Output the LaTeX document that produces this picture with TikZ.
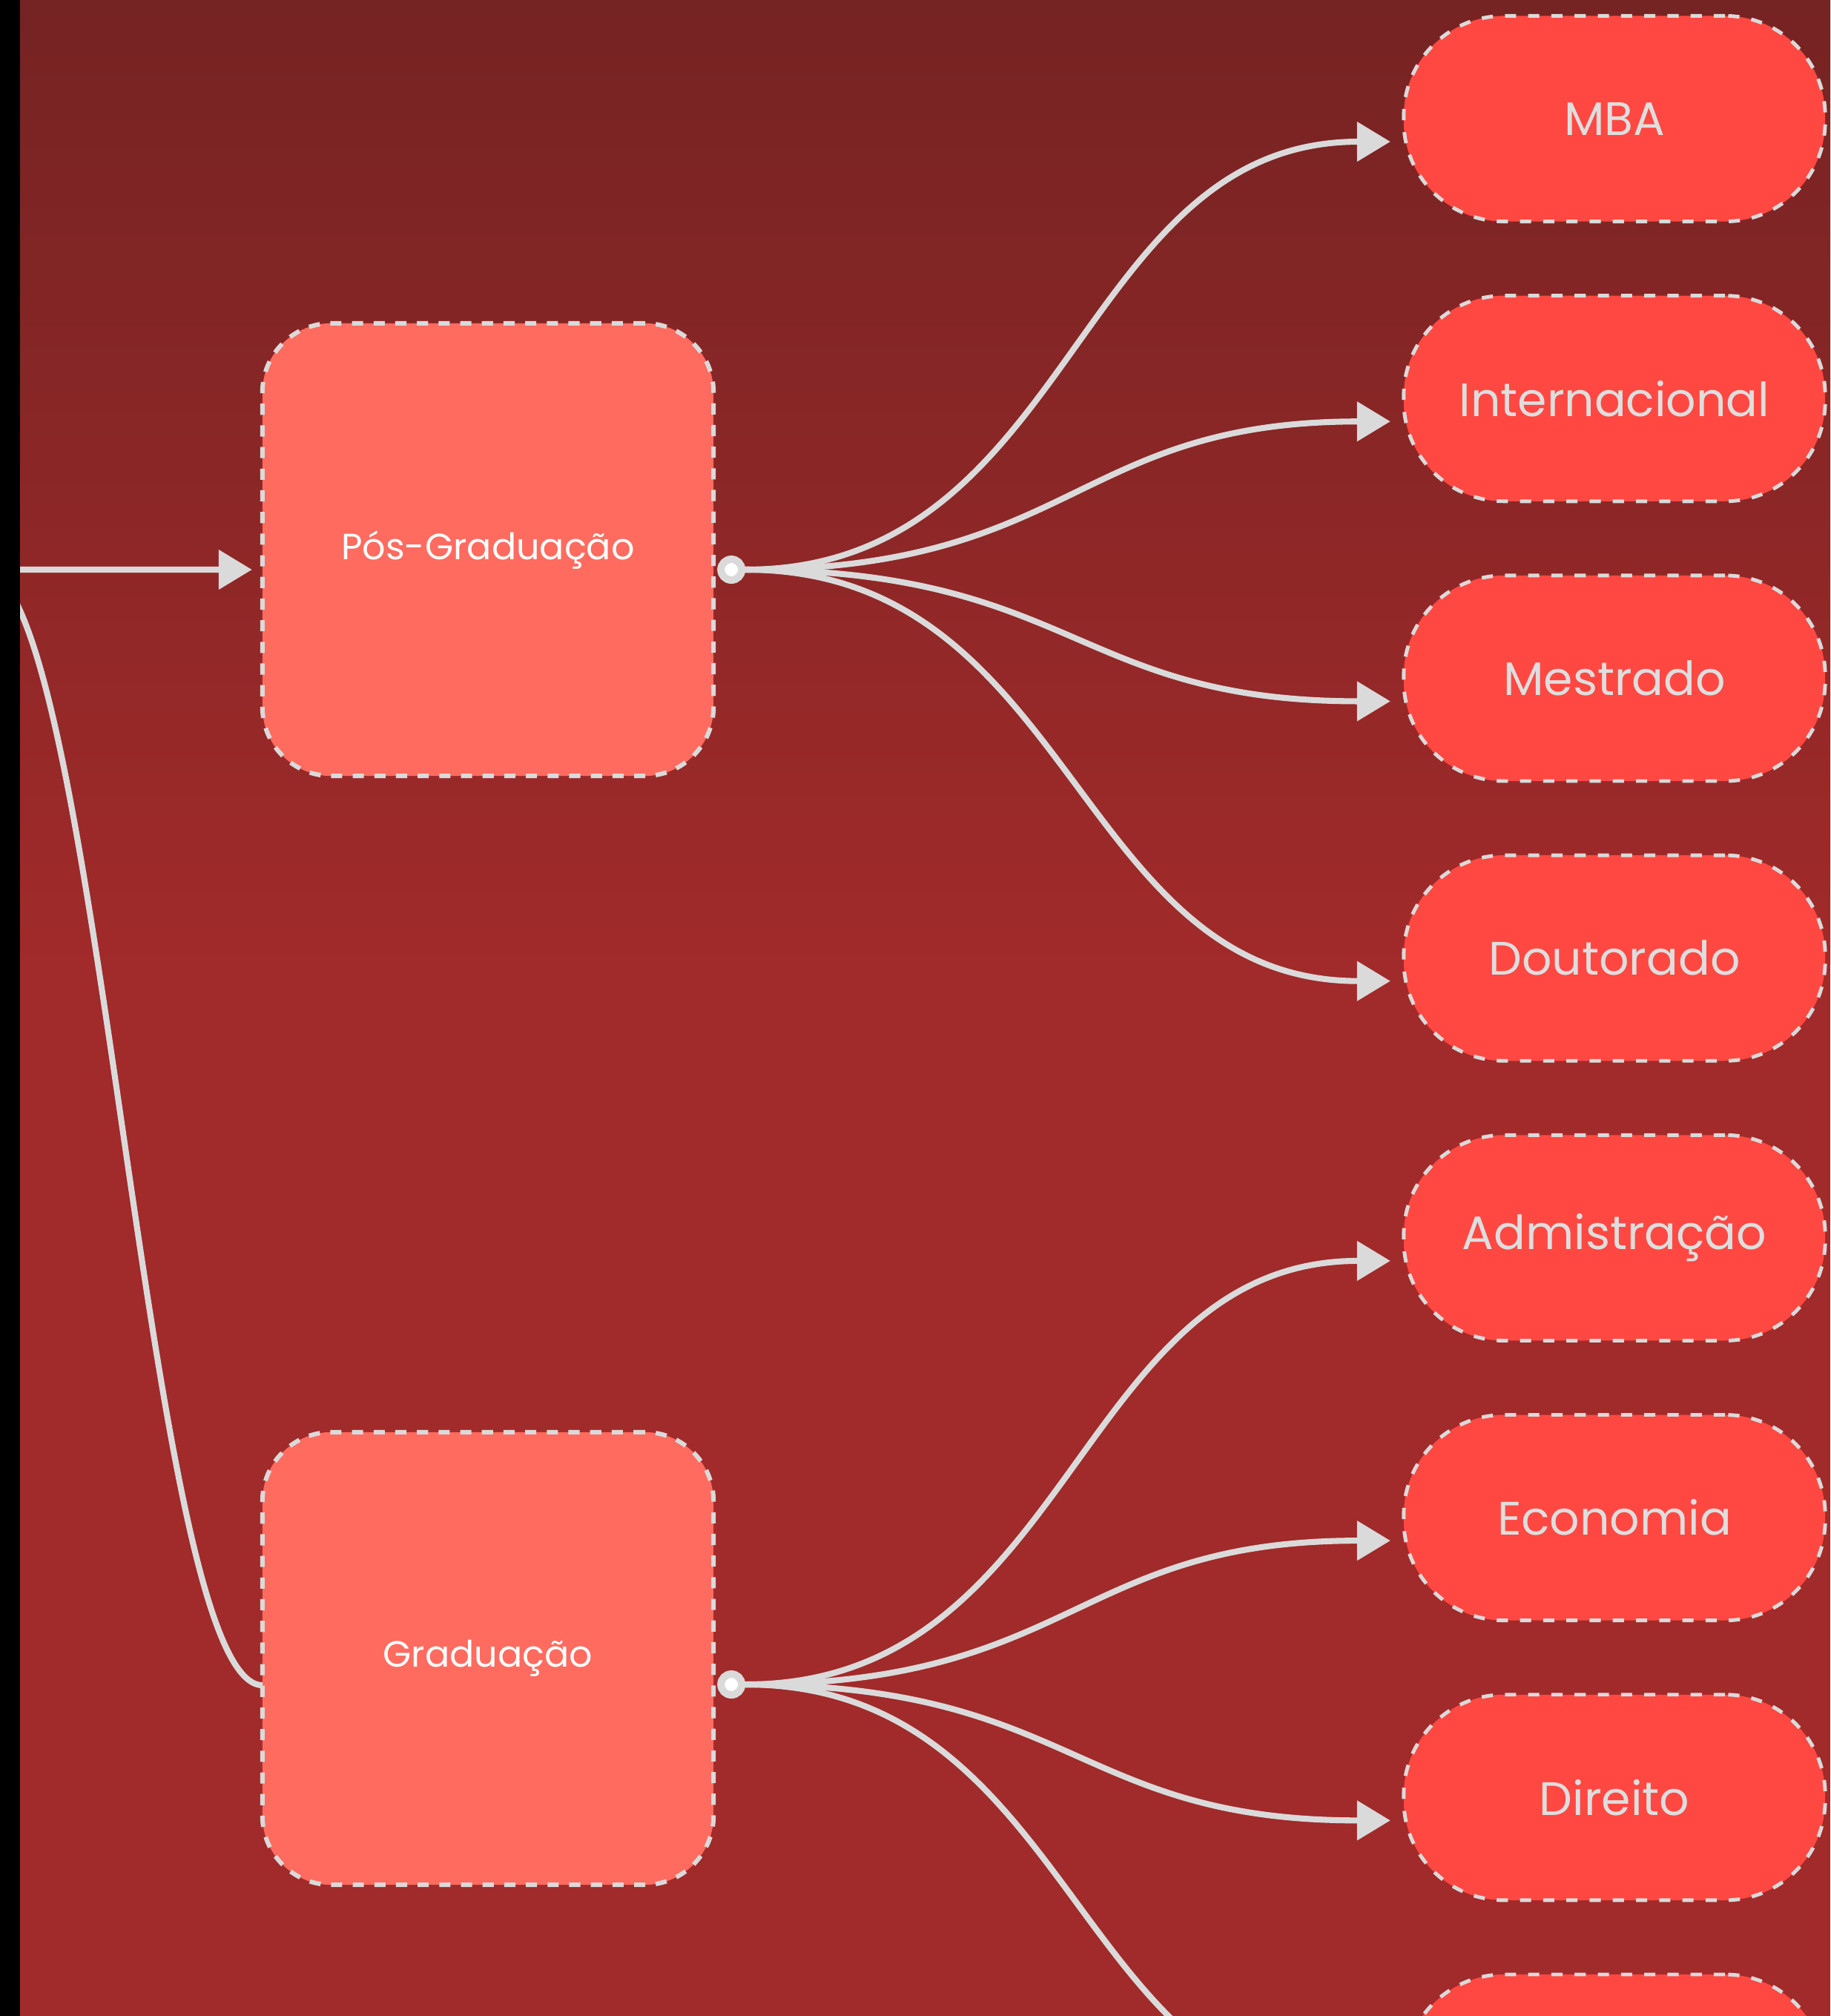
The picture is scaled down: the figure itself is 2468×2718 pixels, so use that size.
\documentclass[tikz,border=0pt]{standalone}
\usepackage{fontspec}
\setmainfont{Poppins}
\usepackage{xcolor}
\usetikzlibrary{arrows.meta, positioning}

\definecolor{bgtop}{HTML}{762323}
\definecolor{bgmid}{HTML}{A12A2A}
\definecolor{boxfill}{HTML}{FF6B5F}
\definecolor{pillfill}{HTML}{FF4842}
\definecolor{edge}{HTML}{DADADA}
\definecolor{label}{HTML}{DEDEDE}

\begin{document}
\begin{tikzpicture}[
  x=0.01cm, y=-0.01cm,
  box/.style={draw=edge, line width=1.7pt, dash pattern=on 4.3pt off 4pt, rounded corners=0.93cm, fill=boxfill,
    minimum width=6.08cm, minimum height=6.1cm, inner sep=0pt, outer sep=0pt, text=white, font=\fontsize{14}{16}\selectfont},
  pill/.style={draw=edge, line width=1.4pt, dash pattern=on 4.3pt off 4.6pt, rounded corners=1.35cm, fill=pillfill,
    minimum width=5.68cm, minimum height=2.77cm, inner sep=0pt, outer sep=0pt, text=label, font=\fontsize{18}{20}\selectfont},
  wire/.style={draw=edge, line width=2.3pt},
  link/.style={wire, -{Triangle[length=0.45cm, width=0.52cm]}, shorten >=0.18cm},
  dot/.style={circle, fill=white, draw=edge, line width=0.1cm, minimum size=0.28cm, inner sep=0pt}
]
  \useasboundingbox (0,0) rectangle (2468,2718);
  \clip (0,0) rectangle (2468,2718);
  % background
  \shade[top color=bgtop, bottom color=bgmid] (0,0) rectangle (2468,1300);
  \fill[bgmid] (0,1299) rectangle (2468,2718);

  \node[box] (pos) at (658,741) {Pós-Graduação};
  \node[box] (gra) at (658,2236) {Graduação};

  \node[pill] (mba) at (2177,160) {MBA};
  \node[pill, below=1.0cm of mba] (inter) {Internacional};
  \node[pill, below=1.0cm of inter] (mest) {Mestrado};
  \node[pill, below=1.0cm of mest] (dout) {Doutorado};
  \node[pill, below=1.0cm of dout] (adm) {Admistração};
  \node[pill, below=1.0cm of adm] (eco) {Economia};
  \node[pill, below=1.0cm of eco] (dir) {Direito};
  \node[pill, below=1.0cm of dir] (extra) {};

  \coordinate (root) at (-24,768);
  \draw[link, shorten >=0.14cm] (root) -- ([yshift=-0.27cm]pos.west);
  \draw[wire] (root) .. controls +(158,0) and +(-158,0) .. ([yshift=-0.36cm]gra.west);

  \node[dot] (posdot) at ([xshift=0.24cm, yshift=-0.27cm]pos.east) {};
  \node[dot] (gradot) at ([xshift=0.24cm, yshift=-0.35cm]gra.east) {};

  \foreach \t in {mba, inter, mest, dout}
    \draw[link] (posdot.east) .. controls +(444,0) and +(-444,0) .. ([yshift=-0.31cm]\t.west);
  \foreach \t in {adm, eco, dir, extra}
    \draw[link] (gradot.east) .. controls +(444,0) and +(-444,0) .. ([yshift=-0.31cm]\t.west);

  % left strip
  \fill[black] (0,0) rectangle (27,2718);
\end{tikzpicture}
\end{document}
